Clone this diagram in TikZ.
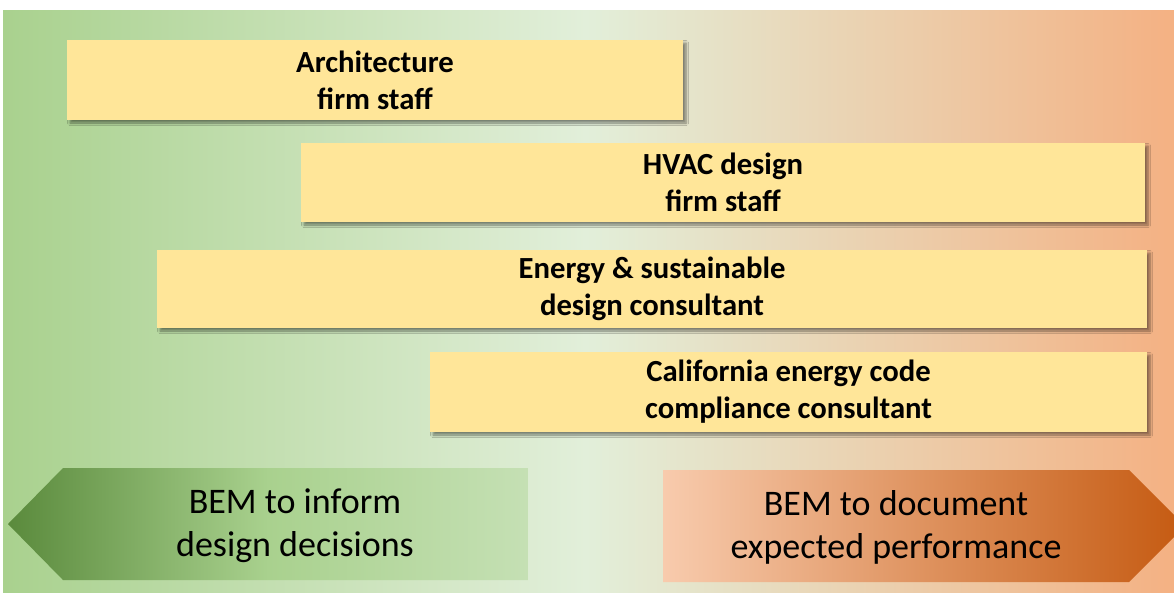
\documentclass[tikz,border=0pt]{standalone}
\usepackage{fontspec}
\setmainfont{Carlito}
\usetikzlibrary{shadows.blur}
\definecolor{leafgreen}{HTML}{A9D18E}
\definecolor{palegreen}{HTML}{E2EFDA}
\definecolor{peach}{HTML}{F4B183}
\definecolor{boxyellow}{HTML}{FFE699}
\definecolor{darkgreen}{HTML}{5A8A3C}
\definecolor{lightgreen}{HTML}{C5E0B4}
\definecolor{lightpeach}{HTML}{F8CBAD}
\definecolor{burnt}{HTML}{C55A11}
\begin{document}
\begin{tikzpicture}[x=1pt,y=-1pt,
  rolebox/.style={fill=boxyellow, draw=none, inner sep=0pt, align=center,
    font=\fontsize{30.7}{37}\selectfont\bfseries,
    blur shadow={shadow xshift=3pt, shadow yshift=-3pt, shadow opacity=45,
      shadow blur radius=2.5pt, shadow blur steps=6}},
  armtext/.style={align=center, inner sep=0pt, font=\fontsize{36}{43}\selectfont}]
\useasboundingbox (0,0) rectangle (1174,592);
\clip (0,0) rectangle (1174,592);
\fill[white] (0,0) rectangle (1174,592);
% background panel: green on the left, orange on the right
\shade[left color=leafgreen, right color=palegreen] (3,10) rectangle (586,592);
\shade[left color=palegreen, right color=peach] (585,10) rectangle (1174,592);

% team members
\node[rolebox, minimum width=616pt, minimum height=80pt] (arch) at (375,80)
  {Architecture\\firm staff};
\node[rolebox, minimum width=844pt, minimum height=79pt] (hvac) at (723,182.5)
  {HVAC design\\firm staff};
\node[rolebox, minimum width=990pt, minimum height=78pt] (energy) at (652,289)
  {Energy \& sustainable\\design consultant};
\node[rolebox, minimum width=717pt, minimum height=80pt] (calif) at (788.5,392)
  {California energy code\\compliance consultant};

% purpose arrows
\shade[left color=darkgreen, right color=lightgreen, middle color=leafgreen]
  (8,524) -- (63,468) -- (528,468) -- (528,580) -- (63,580) -- cycle;
\shade[left color=lightpeach, middle color=peach, right color=burnt]
  (663,470) -- (1129,470) -- (1185,526) -- (1129,582) -- (663,582) -- cycle;
\node[armtext] (inform) at (295,526) {BEM to inform\\design decisions};
\node[armtext] (document) at (896,527) {BEM to document\\expected performance};
\end{tikzpicture}
\end{document}
